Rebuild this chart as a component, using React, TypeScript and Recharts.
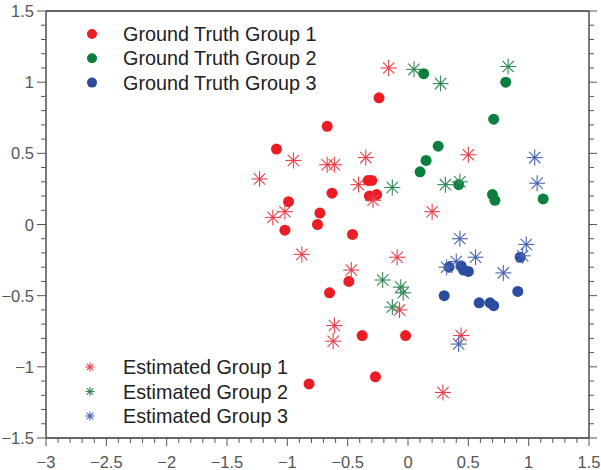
import React from 'react';
import { ScatterChart, Scatter, XAxis, YAxis } from 'recharts';

// ground truth points (filled dots)
const GT1_X = [-0.24, -0.67, -1.09, -0.33, -0.30, -0.32, -0.26, -0.63, -0.99, -0.73, -0.75, -1.02, -0.46, -0.49, -0.65, -0.38, -0.02, -0.27, -0.82];
const GT1_Y = [0.89, 0.69, 0.53, 0.31, 0.31, 0.20, 0.21, 0.22, 0.16, 0.08, 0.00, -0.04, -0.07, -0.40, -0.48, -0.78, -0.78, -1.07, -1.12];
const GT2_X = [0.13, 0.81, 0.71, 0.25, 0.15, 0.10, 0.42, 0.70, 0.72, 1.12];
const GT2_Y = [1.06, 1.00, 0.74, 0.55, 0.45, 0.37, 0.28, 0.21, 0.17, 0.18];
const GT3_X = [0.93, 0.34, 0.44, 0.46, 0.50, 0.91, 0.30, 0.59, 0.68, 0.71];
const GT3_Y = [-0.23, -0.30, -0.29, -0.32, -0.33, -0.47, -0.50, -0.55, -0.55, -0.57];

// estimated points (asterisks)
const EST1_X = [-0.16, -0.95, -0.67, -0.61, -0.35, -1.23, -0.41, -0.29, -1.02, -1.12, 0.50, 0.20, -0.88, -0.09, -0.47, -0.07, -0.61, -0.62, 0.44, 0.29];
const EST1_Y = [1.10, 0.45, 0.42, 0.42, 0.47, 0.32, 0.28, 0.17, 0.09, 0.05, 0.49, 0.09, -0.21, -0.23, -0.32, -0.60, -0.71, -0.82, -0.78, -1.18];
const EST2_X = [0.05, 0.27, 0.83, -0.13, 0.31, 0.43, -0.21, -0.06, -0.04, -0.13];
const EST2_Y = [1.09, 0.99, 1.11, 0.26, 0.28, 0.30, -0.39, -0.44, -0.48, -0.58];
const EST3_X = [1.05, 1.07, 0.43, 0.98, 0.95, 0.56, 0.40, 0.32, 0.79, 0.42];
const EST3_Y = [0.47, 0.29, -0.10, -0.14, -0.22, -0.23, -0.26, -0.30, -0.34, -0.84];

const X_MAJOR = [-3, -2.5, -2, -1.5, -1, -0.5, 0, 0.5, 1, 1.5];
const Y_MAJOR = [-1.5, -1, -0.5, 0, 0.5, 1, 1.5];

const RED = '#ec1c24';
const GREEN = '#0b7f3e';
const BLUE = '#2b4c9f';
const STAR_RED = '#e8424a';
const STAR_GREEN = '#2f8a56';
const STAR_BLUE = '#4765b0';

const FONT = '"Liberation Sans", Arial, sans-serif';

const zip = (xs: number[], ys: number[]) => xs.map((x, i) => ({ x, y: ys[i] }));

// minor ticks every 0.1 between the major ones
const minorTicks = (major: number[]) => {
  const out: number[] = [];
  for (let i = 0; i < major.length - 1; i++) {
    for (let k = 0; k < 5; k++) out.push(Math.round((major[i] + k * 0.1) * 10) / 10);
  }
  out.push(major[major.length - 1]);
  return out;
};
const X_TICKS = minorTicks(X_MAJOR);
const Y_TICKS = minorTicks(Y_MAJOR);

const isMajor = (v: number) => Math.abs(v * 2 - Math.round(v * 2)) < 1e-6;
const fmt = (v: number) => (v < 0 ? '\u2212' + String(-v) : String(v));

const dotShape = (color: string) => (props: any) => (
  <circle cx={props.cx} cy={props.cy} r={5.5} fill={color} />
);

const starShape = (color: string, r = 8) => (props: any) => {
  const { cx, cy } = props;
  const d = r * 0.7071;
  return (
    <g stroke={color} strokeWidth={1.1}>
      <line x1={cx - r} y1={cy} x2={cx + r} y2={cy} />
      <line x1={cx} y1={cy - r} x2={cx} y2={cy + r} />
      <line x1={cx - d} y1={cy - d} x2={cx + d} y2={cy + d} />
      <line x1={cx - d} y1={cy + d} x2={cx + d} y2={cy - d} />
      <circle cx={cx} cy={cy} r={1.2} fill={color} stroke="none" />
    </g>
  );
};

const TICK_COLOR = '#555';
const LABEL_COLOR = '#555';
const LABEL_SIZE = 16.5;

const BottomTick = (props: any) => {
  const { x, y, payload } = props;
  const major = isMajor(payload.value);
  return (
    <g>
      <line x1={x} y1={y} x2={x} y2={y + (major ? 8 : 5)} stroke={TICK_COLOR} />
      {major && (
        <text x={x} y={y + 30} textAnchor="middle" fontSize={LABEL_SIZE} fill={LABEL_COLOR} fontFamily={FONT}>
          {fmt(payload.value)}
        </text>
      )}
    </g>
  );
};

const TopTick = (props: any) => {
  const { x, y, payload } = props;
  const major = isMajor(payload.value);
  return <line x1={x} y1={y} x2={x} y2={y - (major ? 8 : 5)} stroke={TICK_COLOR} />;
};

const LeftTick = (props: any) => {
  const { x, y, payload } = props;
  const major = isMajor(payload.value);
  return (
    <g>
      <line x1={x} y1={y} x2={x - (major ? 9 : 5)} y2={y} stroke={TICK_COLOR} />
      {major && (
        <text x={x - 12} y={y + 6} textAnchor="end" fontSize={LABEL_SIZE} fill={LABEL_COLOR} fontFamily={FONT}>
          {fmt(payload.value)}
        </text>
      )}
    </g>
  );
};

const RightTick = (props: any) => {
  const { x, y, payload } = props;
  const major = isMajor(payload.value);
  return <line x1={x} y1={y} x2={x + (major ? 8 : 5)} y2={y} stroke={TICK_COLOR} />;
};

const GT_LEGEND = [
  { label: 'Ground Truth Group 1', color: RED },
  { label: 'Ground Truth Group 2', color: GREEN },
  { label: 'Ground Truth Group 3', color: BLUE },
];
const EST_LEGEND = [
  { label: 'Estimated Group 1', color: STAR_RED },
  { label: 'Estimated Group 2', color: STAR_GREEN },
  { label: 'Estimated Group 3', color: STAR_BLUE },
];

const App: React.FC = () => {
  return (
    <div style={{ position: 'absolute', left: 0, top: 0, width: 601, height: 470, background: '#fff' }}>
      <ScatterChart width={601} height={470} margin={{ top: 0, right: 0, bottom: 0, left: 0 }}>
        <XAxis xAxisId="b" type="number" dataKey="x" domain={[-3, 1.5]} ticks={X_TICKS} interval={0}
          height={32} tickSize={0} tickMargin={0} tickLine={false} tick={BottomTick}
          axisLine={{ stroke: '#333', strokeWidth: 1.3 }} allowDataOverflow />
        <XAxis xAxisId="t" orientation="top" type="number" domain={[-3, 1.5]} ticks={X_TICKS} interval={0}
          height={11} tickSize={0} tickMargin={0} tickLine={false} tick={TopTick}
          axisLine={{ stroke: '#333', strokeWidth: 1.3 }} allowDataOverflow />
        <YAxis yAxisId="l" type="number" dataKey="y" domain={[-1.5, 1.5]} ticks={Y_TICKS} interval={0}
          width={46} tickSize={0} tickMargin={0} tickLine={false} tick={LeftTick}
          axisLine={{ stroke: '#333', strokeWidth: 1.3 }} allowDataOverflow />
        <YAxis yAxisId="r" orientation="right" type="number" domain={[-1.5, 1.5]} ticks={Y_TICKS} interval={0}
          width={12} tickSize={0} tickMargin={0} tickLine={false} tick={RightTick}
          axisLine={{ stroke: '#333', strokeWidth: 1.3 }} allowDataOverflow />
        <Scatter xAxisId="b" yAxisId="l" data={zip(GT1_X, GT1_Y)} shape={dotShape(RED)} isAnimationActive={false} />
        <Scatter xAxisId="b" yAxisId="l" data={zip(GT2_X, GT2_Y)} shape={dotShape(GREEN)} isAnimationActive={false} />
        <Scatter xAxisId="b" yAxisId="l" data={zip(GT3_X, GT3_Y)} shape={dotShape(BLUE)} isAnimationActive={false} />
        <Scatter xAxisId="b" yAxisId="l" data={zip(EST1_X, EST1_Y)} shape={starShape(STAR_RED)} isAnimationActive={false} />
        <Scatter xAxisId="b" yAxisId="l" data={zip(EST2_X, EST2_Y)} shape={starShape(STAR_GREEN)} isAnimationActive={false} />
        <Scatter xAxisId="b" yAxisId="l" data={zip(EST3_X, EST3_Y)} shape={starShape(STAR_BLUE)} isAnimationActive={false} />
      </ScatterChart>
      <svg width={601} height={470} style={{ position: 'absolute', left: 0, top: 0, pointerEvents: 'none' }}>
        {GT_LEGEND.map((item, i) => (
          <g key={item.label}>
            <circle cx={92} cy={34 + i * 24.3} r={5} fill={item.color} />
            <text x={123} y={34 + i * 24.3 + 7} fontSize={19.8} fill="#222" fontFamily={FONT}>{item.label}</text>
          </g>
        ))}
        {EST_LEGEND.map((item, i) => {
          const cy = 367 + i * 24.5;
          return (
            <g key={item.label}>
              {starShape(item.color, 4.5)({ cx: 90, cy })}
              <text x={123} y={cy + 7} fontSize={19.8} fill="#222" fontFamily={FONT}>{item.label}</text>
            </g>
          );
        })}
      </svg>
    </div>
  );
};

export default App;
